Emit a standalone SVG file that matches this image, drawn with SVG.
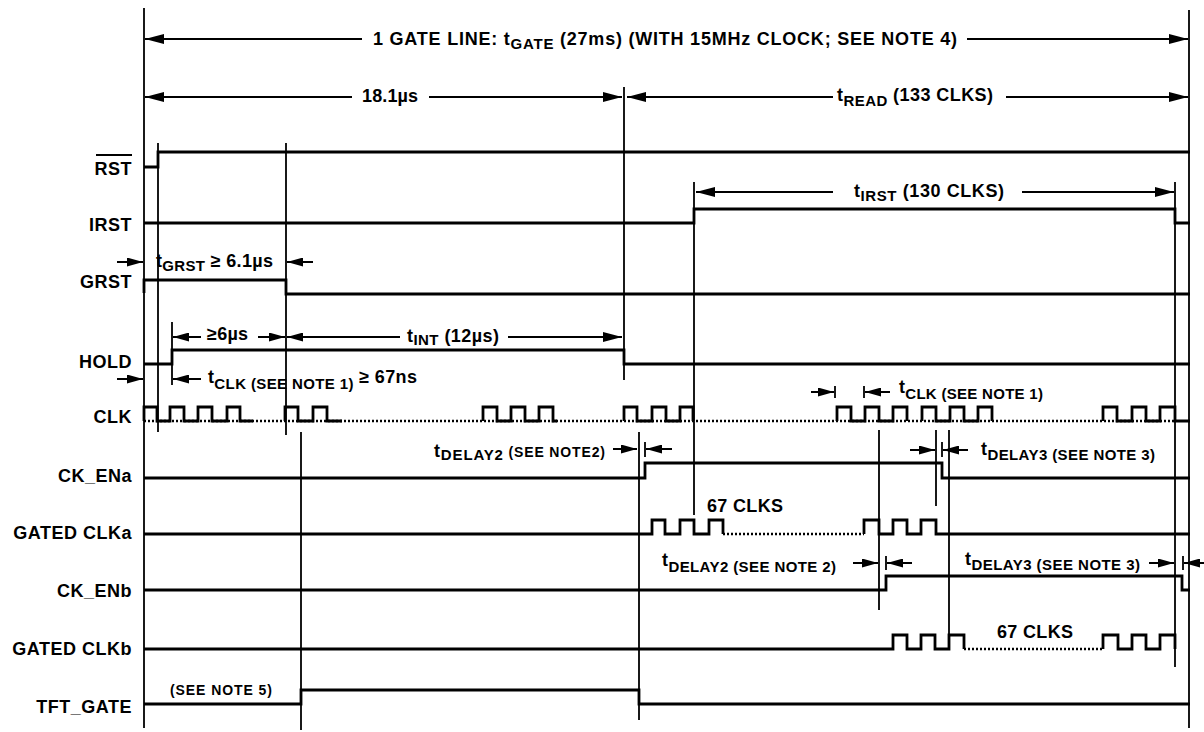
<svg xmlns="http://www.w3.org/2000/svg" width="1204" height="732" viewBox="0 0 1204 732">
<defs>
<style>
text{font-family:"Liberation Sans",Arial,sans-serif;font-weight:bold;fill:#000;font-size:18px}
.lbl{text-anchor:end;letter-spacing:0.5px}
.sub{font-size:15px}
.sm{font-size:14px}
.sig{fill:none;stroke:#000;stroke-width:2.8;stroke-linejoin:miter}
.dot{fill:none;stroke:#000;stroke-width:2.4;stroke-dasharray:2 2}
.guide{stroke:#000;stroke-width:1.8;fill:none}
.dim{stroke:#000;stroke-width:2;fill:none}
.big{marker-end:url(#ahb)}
.small{marker-end:url(#ahs)}
</style>
<marker id="ahb" viewBox="0 0 19 10" refX="19" refY="5" markerWidth="19" markerHeight="10" markerUnits="userSpaceOnUse" orient="auto"><path d="M0,0 L19,5 L0,10 z" fill="#000"/></marker>
<marker id="ahs" viewBox="0 0 16 9" refX="16" refY="4.5" markerWidth="16" markerHeight="9" markerUnits="userSpaceOnUse" orient="auto"><path d="M0,0 L16,4.5 L0,9 z" fill="#000"/></marker>
</defs>
<rect width="1204" height="732" fill="#fff"/>

<g id="guides">
<line class="guide" x1="144" y1="8" x2="144" y2="728"/>
<line class="guide" x1="1189" y1="10" x2="1189" y2="728"/>
<line class="guide" x1="158" y1="143" x2="158" y2="432"/>
<line class="guide" x1="286" y1="143" x2="286" y2="435"/>
<line class="guide" x1="172" y1="322" x2="172" y2="385"/>
<line class="guide" x1="624" y1="87" x2="624" y2="380"/>
<line class="guide" x1="694" y1="182" x2="694" y2="515"/>
<line class="guide" x1="1175" y1="182" x2="1175" y2="667"/>
<line class="guide" x1="301" y1="432" x2="301" y2="730"/>
<line class="guide" x1="639" y1="432" x2="639" y2="720"/>
<line class="guide" x1="879" y1="430" x2="879" y2="610"/>
<line class="guide" x1="936" y1="430" x2="936" y2="506"/>
<line class="guide" x1="949" y1="430" x2="949" y2="642"/>
<line class="guide" x1="835" y1="386" x2="835" y2="398"/>
<line class="guide" x1="864" y1="386" x2="864" y2="398"/>
<line class="guide" x1="645" y1="442" x2="645" y2="457"/>
<line class="guide" x1="942" y1="442" x2="942" y2="457"/>
<line class="guide" x1="886" y1="556" x2="886" y2="570"/>
<line class="guide" x1="1183" y1="556" x2="1183" y2="570"/>
</g>

<g id="dimensions">
<line class="dim big" x1="362" y1="39" x2="145" y2="39"/>
<line class="dim big" x1="967" y1="39" x2="1188" y2="39"/>
<text x="373" y="45" textLength="584">1 GATE LINE: t<tspan class="sub" dy="4">GATE</tspan><tspan dy="-4"> (27ms) (WITH 15MHz CLOCK; SEE NOTE 4)</tspan></text>

<line class="dim big" x1="352" y1="97" x2="145" y2="97"/>
<text x="362" y="102" textLength="56">18.1µs</text>
<line class="dim big" x1="429" y1="97" x2="622" y2="97"/>
<line class="dim big" x1="833" y1="97" x2="627" y2="97"/>
<text x="837" y="101" textLength="156">t<tspan class="sub" dy="5">READ</tspan><tspan dy="-5"> (133 CLKS)</tspan></text>
<line class="dim big" x1="1006" y1="97" x2="1188" y2="97"/>

<line class="dim big" x1="833" y1="192" x2="696" y2="192"/>
<text x="854" y="197" textLength="150">t<tspan class="sub" dy="4">IRST</tspan><tspan dy="-4"> (130 CLKS)</tspan></text>
<line class="dim big" x1="1022" y1="192" x2="1174" y2="192"/>

<line class="dim small" x1="117" y1="262" x2="143" y2="262"/>
<text x="156" y="267" textLength="117">t<tspan class="sub" dy="4">GRST</tspan><tspan dy="-4"> ≥ 6.1µs</tspan></text>
<line class="dim small" x1="313" y1="262" x2="287" y2="262"/>

<line class="dim small" x1="201" y1="337" x2="173" y2="337"/>
<text x="207" y="340" textLength="41">≥6µs</text>
<line class="dim small" x1="258" y1="337" x2="285" y2="337"/>
<line class="dim small" x1="400" y1="337" x2="287" y2="337"/>
<text x="407" y="342" textLength="92">t<tspan class="sub" dy="3">INT</tspan><tspan dy="-3"> (12µs)</tspan></text>
<line class="dim big" x1="508" y1="337" x2="622" y2="337"/>

<line class="dim small" x1="117" y1="379" x2="143" y2="379"/>
<line class="dim small" x1="201" y1="379" x2="173" y2="379"/>
<text x="208" y="383" textLength="209">t<tspan class="sub" dy="6">CLK (SEE NOTE 1)</tspan><tspan dy="-6"> ≥ 67ns</tspan></text>

<line class="dim small" x1="811" y1="392" x2="834" y2="392"/>
<line class="dim small" x1="890" y1="392" x2="865" y2="392"/>
<text x="899" y="393" textLength="144">t<tspan class="sub" dy="6">CLK (SEE NOTE 1)</tspan></text>

<text x="434" y="457" textLength="171">t<tspan class="sub" dy="3">DELAY2</tspan><tspan class="sm" dy="-3"> (SEE NOTE2)</tspan></text>
<line class="dim small" x1="613" y1="449" x2="637" y2="449"/>
<line class="dim small" x1="672" y1="449" x2="646" y2="449"/>

<line class="dim small" x1="910" y1="450" x2="935" y2="450"/>
<line class="dim small" x1="968" y1="450" x2="943" y2="450"/>
<text x="981" y="455" textLength="174">t<tspan class="sub" dy="5">DELAY3 (SEE NOTE 3)</tspan></text>

<text x="662" y="566" textLength="174">t<tspan class="sub" dy="6">DELAY2 (SEE NOTE 2)</tspan></text>
<line class="dim small" x1="853" y1="563" x2="878" y2="563"/>
<line class="dim small" x1="912" y1="563" x2="887" y2="563"/>

<text x="965" y="565" textLength="175">t<tspan class="sub" dy="5">DELAY3 (SEE NOTE 3)</tspan></text>
<line class="dim small" x1="1149" y1="563" x2="1174" y2="563"/>
<line class="dim small" x1="1206" y1="563" x2="1184" y2="563"/>
</g>

<g id="sig-rst">
<text class="lbl" x="132" y="175">RST</text>
<line x1="96" y1="155" x2="132" y2="155" stroke="#000" stroke-width="1.8"/>
<path class="sig" d="M144,167 H158 V152 H1190"/>
</g>

<g id="sig-irst">
<text class="lbl" x="132" y="231">IRST</text>
<path class="sig" d="M144,223 H694 V209 H1175 V223 H1190"/>
</g>

<g id="sig-grst">
<text class="lbl" x="132" y="288">GRST</text>
<path class="sig" d="M144,293 V280 H286 V294 H1190"/>
</g>

<g id="sig-hold">
<text class="lbl" x="132" y="368">HOLD</text>
<path class="sig" d="M144,364 H172 V350 H624 V364 H1190"/>
</g>

<g id="sig-clk">
<text class="lbl" x="132" y="423">CLK</text>
<path class="dot" d="M144,421 H1175"/>
<path class="sig" d="M144,421 V407 H157 V421 H170 V407 H184 V421 H198 V407 H212 V421 H227 V407 H240 V421 H253"/>
<path class="sig" d="M285,421 V407 H298 V421 H313 V407 H327 V421 H342"/>
<path class="sig" d="M483,421 V407 H497 V421 H511 V407 H525 V421 H539 V407 H553 V421 H557"/>
<path class="sig" d="M624,421 V407 H637 V421 H652 V407 H666 V421 H680 V407 H693 V421"/>
<path class="sig" d="M837,421 V407 H851 V421 H865 V407 H879 V421 H893 V407 H907 V421"/>
<path class="sig" d="M922,421 V407 H936 V421 H950 V407 H964 V421 H978 V407 H992 V421"/>
<path class="sig" d="M1103,421 V407 H1117 V421 H1132 V407 H1146 V421 H1160 V407 H1175 V421 H1190"/>
</g>

<g id="sig-ck-ena">
<text class="lbl" x="132" y="482">CK_ENa</text>
<path class="sig" d="M144,478 H645 V463 H942 V478 H1190"/>
</g>

<g id="sig-gated-clka">
<text class="lbl" x="132" y="539">GATED CLKa</text>
<path class="sig" d="M144,534 H652 V520 H665 V534 H680 V520 H694 V534 H709 V520 H723 V534"/>
<path class="dot" d="M723,534 H864"/>
<path class="sig" d="M864,534 V520 H879 V534 H893 V520 H907 V534 H921 V520 H936 V534 H1190"/>
<text x="707" y="512" textLength="76">67 CLKS</text>
</g>

<g id="sig-ck-enb">
<text class="lbl" x="132" y="597">CK_ENb</text>
<path class="sig" d="M144,590 H886 V576 H1182 V590 H1190"/>
</g>

<g id="sig-gated-clkb">
<text class="lbl" x="132" y="655">GATED CLKb</text>
<path class="sig" d="M144,649 H893 V635 H907 V649 H921 V635 H935 V649 H949 V635 H964 V649"/>
<path class="dot" d="M964,649 H1103"/>
<path class="sig" d="M1103,649 V635 H1118 V649 H1132 V635 H1146 V649 H1160 V635 H1175 V649"/>
<text x="997" y="638" textLength="76">67 CLKS</text>
</g>

<g id="sig-tft-gate">
<text class="lbl" x="132" y="713">TFT_GATE</text>
<path class="sig" d="M144,704 H301 V690 H639 V704 H1190"/>
<text class="sm" x="170" y="695" textLength="102">(SEE NOTE 5)</text>
</g>
</svg>
